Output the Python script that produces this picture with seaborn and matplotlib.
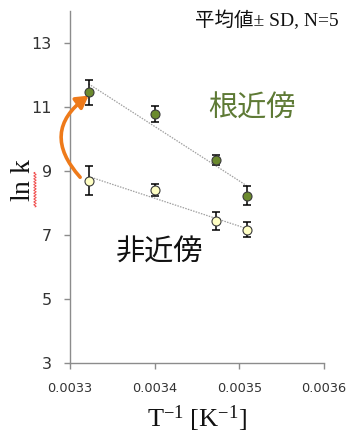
import numpy as np
import pandas as pd
import matplotlib
matplotlib.use("Agg")
import matplotlib.pyplot as plt
from matplotlib.lines import Line2D
import seaborn as sns

# Inverse temperature [1/K]
inv_temp = [0.003322, 0.003401, 0.003472, 0.003509]

# ln k, mean and SD (N=5)
near_root_mean = [11.45, 10.77, 9.34, 8.22]
near_root_sd = [0.38, 0.25, 0.15, 0.30]
far_mean = [8.69, 8.40, 7.42, 7.16]
far_sd = [0.45, 0.18, 0.28, 0.23]

x_ticks = [0.0033, 0.0034, 0.0035, 0.0036]
y_ticks = [3, 5, 7, 9, 11, 13]

sns.set_theme(style="white")
plt.rcParams["font.family"] = ["DejaVu Sans", "Noto Sans CJK JP"]
plt.rcParams["mathtext.fontset"] = "custom"
plt.rcParams["mathtext.rm"] = "Liberation Serif"
plt.rcParams["mathtext.it"] = "Liberation Serif:italic"

df_near = pd.DataFrame({"x": inv_temp, "y": near_root_mean, "sd": near_root_sd})
df_far = pd.DataFrame({"x": inv_temp, "y": far_mean, "sd": far_sd})

fig = plt.figure(figsize=(3.48, 4.33), dpi=100)
ax = fig.add_axes([0.2011, 0.1617, 0.7299, 0.8135])

green = "#6B8A2E"
pale = "#FFFFC4"

for df, face in ((df_near, green), (df_far, pale)):
    # linear trend line
    sns.regplot(data=df, x="x", y="y", ax=ax, ci=None, scatter=False,
                line_kws=dict(color="#A0A0A0", lw=0.9, ls=(0, (1.2, 1.0))))
    ax.errorbar(df["x"], df["y"], yerr=df["sd"], fmt="none", ecolor="black",
                elinewidth=1.1, capsize=3.2, capthick=1.1, zorder=3)
    sns.scatterplot(data=df, x="x", y="y", ax=ax, s=42, color=face,
                    edgecolor="#3A3A3A", linewidth=0.8, zorder=4, legend=False)

ax.set_xlim(0.0033, 0.0036)
ax.set_ylim(3, 14)
ax.set_xticks(x_ticks)
ax.set_xticklabels([f"{v:.4f}" for v in x_ticks])
ax.set_yticks(y_ticks)

for s in ("top", "right"):
    ax.spines[s].set_visible(False)
for s in ("left", "bottom"):
    ax.spines[s].set_color("#8C8C8C")
    ax.spines[s].set_linewidth(1.0)
ax.tick_params(axis="both", direction="out", length=4, width=1.0, color="#8C8C8C",
               bottom=True, left=True)
ax.tick_params(axis="y", labelsize=11.5, labelcolor="#333333", pad=9)
ax.tick_params(axis="x", labelsize=9.3, labelcolor="#333333", pad=10)

ax.set_xlabel(r"$\mathrm{T^{-1}\ [K^{-1}]}$", fontsize=19, labelpad=6, color="#111111")
ax.set_ylabel(r"$\mathrm{ln\ k}$", fontsize=20, color="#111111")
ax.yaxis.label.set_va("center")
ax.yaxis.set_label_coords(-0.19, 0.52)

# spell-check style squiggle under "ln"
sq_y = np.linspace(0.522, 0.602, 60)
sq_x = 0.1005 + 0.0035 * np.sin(np.linspace(0, 24 * np.pi, 60))
fig.add_artist(Line2D(sq_x, sq_y, color="#F05050", lw=0.7, transform=fig.transFigure))

# labels for the two groups
ax.text(0.003515, 10.94, "根近傍", color="#5E7A35", fontsize=21,
        family=["Noto Sans CJK JP"], ha="center", va="center")
ax.text(0.003406, 6.45, "非近傍", color="#111111", fontsize=21,
        family=["Noto Sans CJK JP"], ha="center", va="center")

fig.text(0.972, 0.953, "平均値± SD, N=5", ha="right", va="center", fontsize=14,
         family=["Liberation Serif", "Noto Sans CJK JP"], color="#111111")

# curved arrow from the far group to the near-root group
ax.annotate("", xy=(0.003322, 11.35), xytext=(0.003312, 8.8),
            arrowprops=dict(arrowstyle="-|>,head_length=0.6,head_width=0.35",
                            color="#EE7A1A", lw=2.6,
                            connectionstyle="arc3,rad=-0.55",
                            shrinkA=0, shrinkB=0))

fig.savefig("out.png", dpi=100)
